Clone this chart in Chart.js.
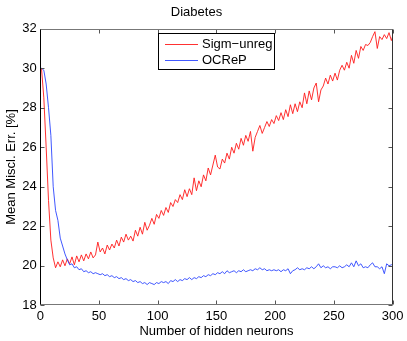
<!DOCTYPE html>
<html>
<head>
<meta charset="utf-8">
<title>Diabetes</title>
<script src="https://cdn.jsdelivr.net/npm/chart.js@4.4.1/dist/chart.umd.min.js"></script>
<style>
  html, body { margin: 0; padding: 0; background: #fff; }
  #chart { display: block; }
</style>
</head>
<body>
<canvas id="chart" width="407" height="341"></canvas>
<script>
// ===== Data =====
const chartTitle = 'Diabetes';
const xLabel = 'Number of hidden neurons';
const yLabel = 'Mean Miscl. Err. [%]';
const seriesNames = ['Sigm\u2212unreg', 'OCReP'];

const neurons = [
  1, 3, 5, 7, 9, 11, 13, 15, 17, 19, 21, 23, 25, 27, 29, 31, 33, 35, 37, 39,
  41, 43, 45, 47, 49, 51, 53, 55, 57, 59, 61, 63, 65, 67, 69, 71, 73, 75, 77, 79,
  81, 83, 85, 87, 89, 91, 93, 95, 97, 99, 101, 103, 105, 107, 109, 111, 113, 115, 117, 119,
  121, 123, 125, 127, 129, 131, 133, 135, 137, 139, 141, 143, 145, 147, 149, 151, 153, 155, 157, 159,
  161, 163, 165, 167, 169, 171, 173, 175, 177, 179, 181, 183, 185, 187, 189, 191, 193, 195, 197, 199,
  201, 203, 205, 207, 209, 211, 213, 215, 217, 219, 221, 223, 225, 227, 229, 231, 233, 235, 237, 239,
  241, 243, 245, 247, 249, 251, 253, 255, 257, 259, 261, 263, 265, 267, 269, 271, 273, 275, 277, 279,
  281, 283, 285, 287, 289, 291, 293, 295, 297, 299, 300
];

const sigmUnreg = [
  30.0, 28.5, 26.0, 23.3, 21.3, 20.4, 19.9, 20.2, 19.95, 20.3, 20.0, 20.35, 20.1, 20.45, 20.05, 20.5, 20.2, 20.55, 20.25, 20.6,
  20.35, 20.7, 20.4, 20.55, 21.2, 20.7, 20.9, 20.6, 21.05, 20.8, 21.1, 20.9, 21.3, 21.0, 21.45, 21.2, 21.6, 21.3, 21.5, 21.25,
  21.8, 21.5, 21.95, 21.6, 22.2, 21.8, 22.05, 22.4, 22.1, 22.6, 22.4, 22.8, 22.55, 22.95, 22.7, 23.2, 23.0, 23.35, 23.2, 23.6,
  23.35, 23.85, 23.5, 23.9, 23.6, 24.45, 23.8, 24.3, 24.0, 24.6, 24.3, 24.95, 24.6, 25.1, 25.6, 25.0, 24.9, 25.4, 25.2, 25.7,
  25.4, 26.0, 25.7, 26.2, 25.9, 26.45, 26.1, 26.6, 26.3, 26.8, 25.8, 26.5, 26.8, 27.1, 26.7, 27.0, 27.3, 27.05, 27.4, 27.2,
  27.6, 27.35, 27.75, 27.4, 27.9, 27.55, 28.15, 27.7, 28.2, 27.8, 28.3, 28.0, 28.75, 28.2, 28.85, 28.4, 29.0, 29.25, 28.3, 28.9,
  29.1, 29.5, 29.2, 29.65, 29.35, 29.75, 29.4, 29.9, 30.15, 29.9, 30.3, 30.0, 30.65, 30.25, 30.9, 30.5, 31.1, 30.9, 31.2, 31.15,
  31.3, 31.6, 31.85, 31.0, 31.6, 31.45, 31.7, 31.5, 31.8, 31.4, 31.6
];

const ocrep = [
  30.0, 29.9, 29.2, 28.0, 26.6, 24.0, 22.8, 22.3, 21.4, 21.0, 20.6, 20.3, 20.05, 20.1, 19.9, 19.95, 19.8, 19.85, 19.7, 19.75,
  19.65, 19.7, 19.6, 19.65, 19.6, 19.55, 19.6, 19.5, 19.55, 19.45, 19.5, 19.4, 19.45, 19.35, 19.4, 19.3, 19.35, 19.25, 19.3, 19.2,
  19.25, 19.15, 19.2, 19.1, 19.15, 19.05, 19.15, 19.1, 19.05, 19.15, 19.1, 19.2, 19.15, 19.2, 19.1, 19.25, 19.2, 19.3, 19.2, 19.3,
  19.25, 19.35, 19.3, 19.4, 19.3, 19.4, 19.35, 19.45, 19.4, 19.5, 19.45, 19.55, 19.5, 19.6, 19.55, 19.65, 19.6, 19.7, 19.6, 19.75,
  19.65, 19.7, 19.75, 19.65, 19.75, 19.7, 19.8, 19.7, 19.75, 19.8, 19.75, 19.85, 19.8, 19.9, 19.8, 19.85, 19.75, 19.8, 19.75, 19.8,
  19.75, 19.8, 19.7, 19.8, 19.75, 19.85, 19.6, 19.75, 19.8, 19.9, 19.8, 19.85, 19.8, 19.9, 19.85, 19.95, 19.85, 19.95, 20.1, 19.9,
  20.0, 19.9, 19.95, 19.85, 19.95, 19.95, 19.9, 20.0, 19.9, 19.95, 20.05, 19.95, 20.15, 19.95, 20.25, 20.0, 20.1, 19.9, 19.95, 19.9,
  20.05, 20.15, 19.95, 19.95, 19.85, 19.95, 19.6, 20.1, 20.0, 20.05, 20.1
];

const xTicks = { min: 0, max: 300, step: 50 };
const yTicks = { min: 18, max: 32, step: 2 };

// ===== Styling =====
const FONT = { family: '"Liberation Sans", Arial, Helvetica, sans-serif', size: 13 };
const TICK_LEN = 4;

// Inward MATLAB-style ticks and the axes box
const matlabAxes = {
  id: 'matlabAxes',
  afterDatasetsDraw(chart) {
    const { ctx, chartArea: a, scales: { x, y } } = chart;
    const L = Math.round(a.left) + 0.5;
    const R = Math.round(a.right) - 0.5;
    const T = Math.round(a.top) + 0.5;
    const B = Math.round(a.bottom) - 0.5;

    ctx.save();
    ctx.lineWidth = 1;
    ctx.strokeStyle = '#555';
    ctx.beginPath();
    x.ticks.forEach(t => {
      const px = Math.round(x.getPixelForValue(t.value)) + 0.5;
      ctx.moveTo(px, B); ctx.lineTo(px, B - TICK_LEN);
      ctx.moveTo(px, T); ctx.lineTo(px, T + TICK_LEN);
    });
    y.ticks.forEach(t => {
      const py = Math.round(y.getPixelForValue(t.value)) + 0.5;
      ctx.moveTo(L, py); ctx.lineTo(L + TICK_LEN, py);
      ctx.moveTo(R, py); ctx.lineTo(R - TICK_LEN, py);
    });
    ctx.stroke();

    // box
    ctx.strokeStyle = '#777';
    ctx.beginPath();
    ctx.moveTo(L, T); ctx.lineTo(R, T);
    ctx.moveTo(L, B); ctx.lineTo(R, B);
    ctx.stroke();
    ctx.strokeStyle = '#333';
    ctx.beginPath();
    ctx.moveTo(R, T); ctx.lineTo(R, B);
    ctx.stroke();
    ctx.strokeStyle = '#000';
    ctx.beginPath();
    ctx.moveTo(L, T); ctx.lineTo(L, B);
    ctx.stroke();
    ctx.restore();
  }
};

// Boxed legend inside the plot, top centre
const boxedLegend = {
  id: 'boxedLegend',
  afterDatasetsDraw(chart) {
    const { ctx } = chart;
    const box = { x: 158.5, y: 33.5, w: 116, h: 36 };
    ctx.save();
    ctx.fillStyle = '#fff';
    ctx.fillRect(box.x, box.y, box.w, box.h);
    ctx.strokeStyle = '#000';
    ctx.lineWidth = 1;
    ctx.strokeRect(box.x, box.y, box.w, box.h);

    ctx.font = FONT.size + 'px ' + FONT.family;
    ctx.textBaseline = 'middle';
    ctx.textAlign = 'left';
    chart.data.datasets.forEach((ds, i) => {
      const cy = Math.round(44 + i * 16) + 0.5;
      ctx.strokeStyle = ds.borderColor;
      ctx.lineWidth = ds.borderWidth;
      ctx.beginPath();
      ctx.moveTo(165, cy);
      ctx.lineTo(198, cy);
      ctx.stroke();
      ctx.fillStyle = '#000';
      ctx.fillText(ds.label, 202, cy);
    });
    ctx.restore();
  }
};

const toPoints = values => neurons.map((n, i) => ({ x: n, y: values[i] }));

new Chart(document.getElementById('chart'), {
  type: 'line',
  data: {
    datasets: [
      {
        label: seriesNames[0],
        data: toPoints(sigmUnreg),
        borderColor: '#ff1a1a',
        borderWidth: 0.9,
        pointRadius: 0,
        tension: 0,
        order: 1
      },
      {
        label: seriesNames[1],
        data: toPoints(ocrep),
        borderColor: '#2b45ff',
        borderWidth: 0.9,
        pointRadius: 0,
        tension: 0,
        order: 0
      }
    ]
  },
  options: {
    responsive: false,
    animation: false,
    events: [],
    layout: { padding: { left: 0, right: 14, top: 0, bottom: 0 } },
    plugins: {
      legend: { display: false },
      tooltip: { enabled: false },
      title: {
        display: true,
        text: chartTitle,
        color: '#000',
        font: { family: FONT.family, size: FONT.size, weight: 'normal' },
        padding: { top: 4.7, bottom: 8.4 }
      }
    },
    scales: {
      x: {
        type: 'linear',
        min: xTicks.min,
        max: xTicks.max,
        afterFit: scale => { scale.height = 35.7; },
        grid: { display: false, drawTicks: false },
        border: { display: false },
        ticks: {
          stepSize: xTicks.step,
          padding: 3.6,
          color: '#000',
          maxRotation: 0,
          font: FONT
        },
        title: {
          display: true,
          text: xLabel,
          color: '#000',
          font: FONT,
          padding: { top: 0, bottom: 2.2 }
        }
      },
      y: {
        type: 'linear',
        min: yTicks.min,
        max: yTicks.max,
        afterFit: scale => { scale.width = 40.3; },
        grid: { display: false, drawTicks: false },
        border: { display: false },
        ticks: {
          stepSize: yTicks.step,
          padding: 3.5,
          color: '#000',
          font: FONT
        },
        title: {
          display: true,
          text: yLabel,
          color: '#000',
          font: FONT,
          padding: { top: 3.5, bottom: 0 }
        }
      }
    }
  },
  plugins: [matlabAxes, boxedLegend]
});
</script>
</body>
</html>
